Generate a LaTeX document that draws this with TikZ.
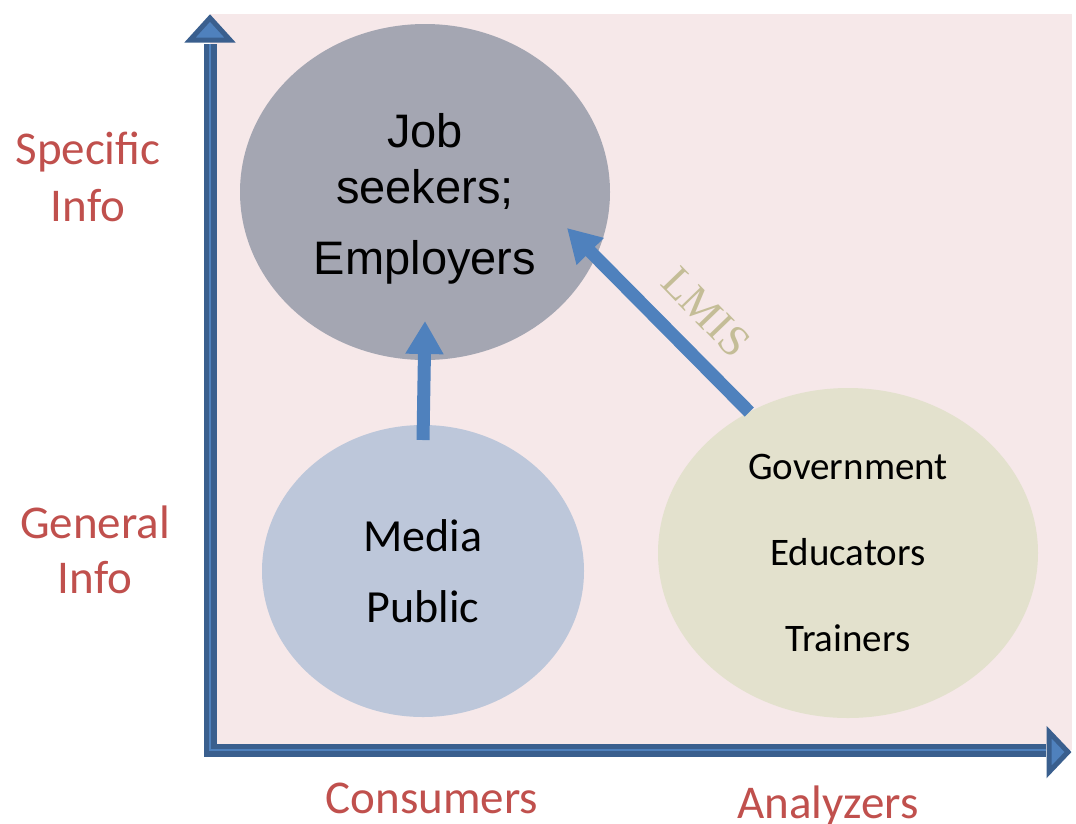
\documentclass[tikz,border=0pt]{standalone}
\usepackage{fontspec}
\setmainfont{Carlito}
\newfontfamily\arialfont{Liberation Sans}
\newfontfamily\lmisfont{Liberation Serif}
\usetikzlibrary{arrows.meta, shapes.geometric}

\definecolor{bgpink}{HTML}{F6E8E9}
\definecolor{seekgray}{HTML}{A4A6B2}
\definecolor{mediablue}{HTML}{BDC7DA}
\definecolor{govbeige}{HTML}{E3E1CD}
\definecolor{arrowblue}{HTML}{4F81BD}
\definecolor{axisdark}{HTML}{3A5F8E}
\definecolor{labelred}{HTML}{C0504D}
\definecolor{lmistan}{HTML}{C4BD97}

\tikzset{
  blob/.style={ellipse, inner sep=0pt, outer sep=0pt, align=center},
  axislabel/.style={text=labelred, align=center},
  fatarrow/.style={draw=arrowblue, line width=13pt, -{Triangle[width=36pt,length=33pt]}},
  axisline/.style={draw=axisdark, line width=5.5pt, double=arrowblue, double distance=2pt, line join=miter},
  axishead/.style={draw=axisdark, fill=arrowblue, line width=5pt, line join=miter}
}

\begin{document}
\begin{tikzpicture}[x=1pt, y=-1pt]
\useasboundingbox (0,0) rectangle (1076,823);

% background
\fill[bgpink] (210,14) rectangle (1072,750);

% axes
\draw[axisline] (210,44) -- (210,750) -- (1046,750);
\filldraw[axishead] (210,18) -- (230,40) -- (190,40) -- cycle;
\filldraw[axishead] (1068,752) -- (1049,732) -- (1049,772) -- cycle;

% the three groups
\node[blob, fill=seekgray, minimum width=370pt, minimum height=336pt,
      font=\arialfont\fontsize{47}{56}\selectfont] (seekers) at (425,192)
      {\rule{0pt}{48pt}Job\\seekers;\\[15pt]Employers};
\node[blob, fill=mediablue, minimum width=322pt, minimum height=292pt,
      font=\fontsize{46}{71}\selectfont] (media) at (423,571)
      {Media\\Public};
\node[blob, fill=govbeige, minimum width=380pt, minimum height=330pt,
      font=\fontsize{39}{86}\selectfont] (analysts) at (848,553)
      {Government\\Educators\\Trainers};

% arrows
\coordinate (lmistip) at (567,228);
\draw[fatarrow] ([yshift=-15pt]media.north) -- ([yshift=39pt]seekers.south);
\draw[fatarrow] (analysts.125) -- (lmistip);
\node[text=lmistan, rotate=-46, font=\lmisfont\fontsize{44}{52}\selectfont] (lmis) at (706,312) {LMIS};

% axis labels
\node[axislabel, font=\fontsize{47}{57}\selectfont] (specific) at (88,177) {Specific\\Info};
\node[axislabel, font=\fontsize{47}{55}\selectfont] (general) at (95,550) {General\\Info};
\node[axislabel, font=\fontsize{47}{57}\selectfont] (consumers) at (432,798) {Consumers};
\node[axislabel, font=\fontsize{47}{57}\selectfont] (analyzers) at (828,806) {Analyzers};

\end{tikzpicture}
\end{document}
